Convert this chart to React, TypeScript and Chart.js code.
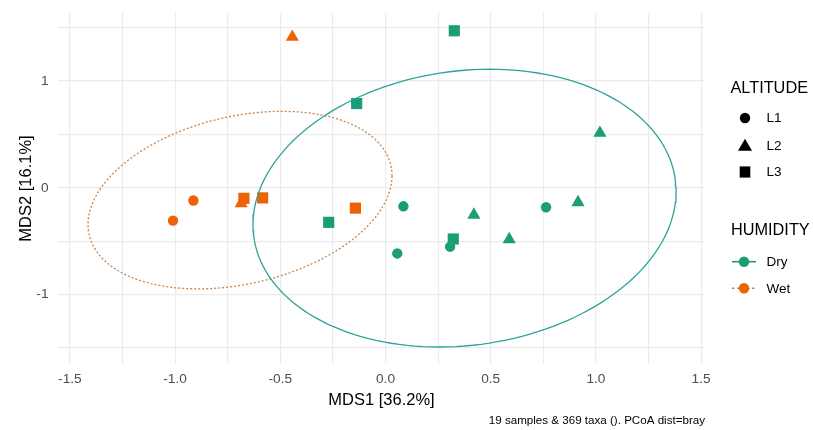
import React, { useEffect, useRef } from "react";
import { Chart, registerables } from "chart.js";

Chart.register(...registerables);

// ---- Data ----
const SAMPLE_MDS1 = [-1.01, -0.913, -0.686, -0.673, -0.584, -0.143, -0.443, -0.27, -0.137, 0.327, 0.085, 0.056, 0.42, 0.322, 0.307, 0.588, 0.763, 0.915, 1.019];
const SAMPLE_MDS2 = [-0.307, -0.119, -0.146, -0.098, -0.094, -0.19, 1.412, -0.323, 0.789, 1.47, -0.173, -0.614, -0.253, -0.479, -0.551, -0.482, -0.182, -0.137, 0.513];
const SAMPLE_ALTITUDE = ["L1", "L1", "L2", "L3", "L3", "L3", "L2", "L3", "L3", "L3", "L1", "L1", "L2", "L3", "L1", "L2", "L1", "L2", "L2"];
const SAMPLE_HUMIDITY = ["Wet", "Wet", "Wet", "Wet", "Wet", "Wet", "Wet", "Dry", "Dry", "Dry", "Dry", "Dry", "Dry", "Dry", "Dry", "Dry", "Dry", "Dry", "Dry"];

const ALTITUDE_LEVELS = ["L1", "L2", "L3"];
const HUMIDITY_LEVELS = ["Dry", "Wet"];

// Confidence ellipses: centre and shape matrix (x = cx + m00*cos t, y = cy + m10*cos t + m11*sin t)
const DRY_ELLIPSE_CENTER = [0.3755, -0.19];
const DRY_ELLIPSE_SHAPE = [1.0055, 0.156, 1.2906];
const WET_ELLIPSE_CENTER = [-0.6915, -0.115];
const WET_ELLIPSE_SHAPE = [0.7225, 0.2284, 0.799];

const X_TICKS = [-1.5, -1.25, -1.0, -0.75, -0.5, -0.25, 0.0, 0.25, 0.5, 0.75, 1.0, 1.25, 1.5];
const X_LABELED = [-1.5, -1.0, -0.5, 0.0, 0.5, 1.0, 1.5];
const Y_TICKS = [-1.5, -1.0, -0.5, 0.0, 0.5, 1.0, 1.5];
const Y_LABELED = [-1, 0, 1];

const X_TITLE = "MDS1 [36.2%]";
const Y_TITLE = "MDS2 [16.1%]";
const CAPTION = "19 samples & 369 taxa (). PCoA dist=bray";

// ---- Styles ----
const FONT = '"Liberation Sans", Arial, Helvetica, sans-serif';
const COLORS: Record<string, string> = { Dry: "#1B9E77", Wet: "#EC6205" };
const ELLIPSE_COLORS: Record<string, string> = { Dry: "#2BA39A", Wet: "#C98345" };
const SHAPES: Record<string, string> = { L1: "circle", L2: "triangle", L3: "rect" };
const RADII: Record<string, number> = { L1: 5.2, L2: 7.6, L3: 7.9 };

function ellipsePoints(center: number[], shape: number[]) {
  const pts: { x: number; y: number }[] = [];
  const n = 160;
  for (let i = 0; i <= n; i++) {
    const t = (i / n) * Math.PI * 2;
    pts.push({
      x: center[0] + shape[0] * Math.cos(t),
      y: center[1] + shape[1] * Math.cos(t) + shape[2] * Math.sin(t),
    });
  }
  return pts;
}

const legendPlugin = {
  id: "ggLegend",
  afterDraw(chart: any) {
    const ctx = chart.ctx as CanvasRenderingContext2D;
    ctx.save();
    ctx.textBaseline = "middle";
    ctx.textAlign = "left";
    ctx.fillStyle = "#000";
    ctx.font = `16.3px ${FONT}`;
    ctx.fillText("ALTITUDE", 730.5, 88.5);
    ctx.fillText("HUMIDITY", 731, 230.5);

    ctx.font = `13.5px ${FONT}`;
    const symX = 745;
    const ys = [118, 145.7, 172];
    ALTITUDE_LEVELS.forEach((lvl, i) => {
      const y = ys[i];
      ctx.fillStyle = "#000";
      ctx.beginPath();
      if (lvl === "L1") {
        ctx.arc(symX, y, 5.2, 0, Math.PI * 2);
      } else if (lvl === "L2") {
        ctx.moveTo(symX, y - 7);
        ctx.lineTo(symX + 7, y + 5);
        ctx.lineTo(symX - 7, y + 5);
        ctx.closePath();
      } else {
        ctx.rect(symX - 5.3, y - 5.6, 10.6, 11.2);
      }
      ctx.fill();
      ctx.fillText(lvl, 766.5, y + 0.5);
    });

    const hy = [261.7, 288.3];
    HUMIDITY_LEVELS.forEach((lvl, i) => {
      const y = hy[i];
      ctx.save();
      ctx.strokeStyle = lvl === "Dry" ? COLORS.Dry : ELLIPSE_COLORS.Wet;
      ctx.lineWidth = 1.6;
      ctx.setLineDash(lvl === "Dry" ? [] : [2.5, 2.5]);
      ctx.beginPath();
      ctx.moveTo(732, y);
      ctx.lineTo(756, y);
      ctx.stroke();
      ctx.restore();
      ctx.fillStyle = COLORS[lvl];
      ctx.beginPath();
      ctx.arc(744, y, 5.2, 0, Math.PI * 2);
      ctx.fill();
      ctx.fillStyle = "#000";
      ctx.fillText(lvl, 766.5, y + 0.5);
    });
    ctx.restore();
  },
};

export default function App() {
  const canvasRef = useRef<HTMLCanvasElement | null>(null);

  useEffect(() => {
    if (!canvasRef.current) return;

    const datasets: any[] = [];
    // ellipses first so they are drawn on top of the points
    HUMIDITY_LEVELS.forEach((h) => {
      datasets.push({
        type: "scatter",
        label: `${h} ellipse`,
        data: ellipsePoints(
          h === "Dry" ? DRY_ELLIPSE_CENTER : WET_ELLIPSE_CENTER,
          h === "Dry" ? DRY_ELLIPSE_SHAPE : WET_ELLIPSE_SHAPE
        ),
        showLine: true,
        borderColor: ELLIPSE_COLORS[h],
        borderWidth: 1.3,
        borderDash: h === "Dry" ? [] : [2, 2],
        pointRadius: 0,
        fill: false,
        tension: 0,
      });
    });
    HUMIDITY_LEVELS.forEach((h) => {
      ALTITUDE_LEVELS.forEach((a) => {
        const pts: { x: number; y: number }[] = [];
        SAMPLE_MDS1.forEach((x, i) => {
          if (SAMPLE_HUMIDITY[i] === h && SAMPLE_ALTITUDE[i] === a) {
            pts.push({ x, y: SAMPLE_MDS2[i] });
          }
        });
        datasets.push({
          type: "scatter",
          label: `${h} ${a}`,
          data: pts,
          pointStyle: SHAPES[a],
          pointRadius: RADII[a],
          pointBackgroundColor: COLORS[h],
          pointBorderColor: COLORS[h],
          pointBorderWidth: 0,
          showLine: false,
        });
      });
    });

    const chart = new Chart(canvasRef.current, {
      type: "scatter",
      data: { datasets },
      plugins: [legendPlugin],
      options: {
        animation: false,
        responsive: false,
        devicePixelRatio: 1,
        layout: { padding: { left: 0, right: 108, top: 13, bottom: 0 } },
        plugins: {
          legend: { display: false },
          tooltip: { enabled: false },
          title: {
            display: true,
            text: CAPTION,
            position: "bottom",
            align: "end",
            color: "#000",
            font: { family: FONT, size: 11.6, weight: "normal" },
            padding: { top: 0, bottom: 2 },
          },
        },
        scales: {
          x: {
            type: "linear",
            min: -1.5566,
            max: 1.5185,
            afterBuildTicks: (axis: any) => {
              axis.ticks = X_TICKS.map((v) => ({ value: v }));
            },
            afterFit: (axis: any) => {
              axis.height = 50;
              axis.paddingLeft = 0;
              axis.paddingRight = 0;
            },
            border: { display: false },
            grid: { color: "#EBEBEB", lineWidth: 1.2, drawTicks: false },
            ticks: {
              padding: 7,
              color: "#4D4D4D",
              font: { family: FONT, size: 13.7 },
              maxRotation: 0,
              autoSkip: false,
              callback: (v: any) => {
                const n = Number(v);
                return X_LABELED.some((l) => Math.abs(l - n) < 1e-9) ? n.toFixed(1) : "";
              },
            },
            title: {
              display: true,
              text: X_TITLE,
              color: "#000",
              font: { family: FONT, size: 16.5 },
              padding: { top: 0, bottom: 4 },
            },
          },
          y: {
            type: "linear",
            min: -1.6498,
            max: 1.6366,
            afterBuildTicks: (axis: any) => {
              axis.ticks = Y_TICKS.map((v) => ({ value: v }));
            },
            afterFit: (axis: any) => {
              axis.width = 58;
              axis.paddingTop = 0;
              axis.paddingBottom = 0;
            },
            border: { display: false },
            grid: { color: "#EBEBEB", lineWidth: 1.2, drawTicks: false },
            ticks: {
              padding: 9.5,
              color: "#4D4D4D",
              font: { family: FONT, size: 13.7 },
              autoSkip: false,
              callback: (v: any) => {
                const n = Number(v);
                return Y_LABELED.some((l) => Math.abs(l - n) < 1e-9) ? String(Math.round(n)) : "";
              },
            },
            title: {
              display: true,
              text: Y_TITLE,
              color: "#000",
              font: { family: FONT, size: 16.5 },
              padding: { top: 17, bottom: 0 },
            },
          },
        },
      },
    } as any);

    return () => chart.destroy();
  }, []);

  return (
    <div style={{ position: "absolute", left: 0, top: 0, width: 813, height: 430, background: "#fff" }}>
      <canvas ref={canvasRef} width={813} height={430} style={{ width: 813, height: 430, display: "block" }} />
    </div>
  );
}
